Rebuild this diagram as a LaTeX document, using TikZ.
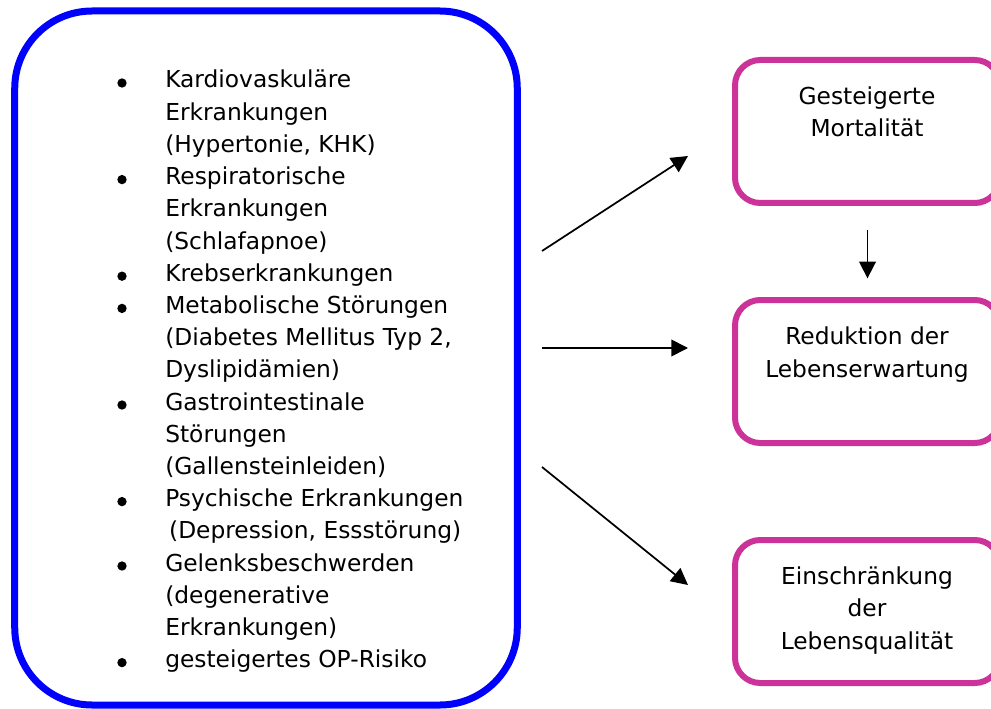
\documentclass[tikz,border=0pt]{standalone}
\usepackage{fontspec}
\setmainfont{DejaVu Sans}
\usetikzlibrary{arrows.meta}
\definecolor{riskblue}{RGB}{0,0,255}
\definecolor{effpink}{RGB}{204,51,153}

\begin{document}
\begin{tikzpicture}[x=0.75pt, y=-0.75pt, every node/.style={font=\fontsize{17.5}{24.2}\selectfont, inner sep=0pt}, >={Triangle[length=12.5pt, width=12.5pt]},
	riskbox/.style={draw=riskblue, line width=5.25pt, rounded corners=58pt, minimum width=376.9pt, minimum height=520.5pt},
	effbox/.style={draw=effpink, line width=4.5pt, rounded corners=19pt, minimum width=198.75pt, minimum height=107.25pt},
	efftext/.style={align=center, anchor=base},
	riskline/.style={anchor=base west},
	riskdot/.style={circle, fill=black, minimum size=7pt},
	arr/.style={->, line width=1.3pt}]
	\useasboundingbox (0,0) rectangle (991,709);
	\clip (0,0) rectangle (991,709);
	\node[riskbox] (risks) at (266,358) {};
	\foreach \txt [count=\i] in {Kardiovaskuläre, Erkrankungen, {(Hypertonie, KHK)}, Respiratorische, Erkrankungen, {(Schlafapnoe)}, Krebserkrankungen, Metabolische Störungen, {(Diabetes Mellitus Typ 2,}, {Dyslipidämien)}, Gastrointestinale, Störungen, {(Gallensteinleiden)}, Psychische Erkrankungen, {\,(Depression, Essstörung)}, Gelenksbeschwerden, {(degenerative}, {Erkrankungen)}, gesteigertes OP-Risiko}
		\node[riskline] (l\i) at (165,{88+(\i-1)*32.2}) {\txt};
	\foreach \i in {1,4,7,8,11,14,16,19}
		\node[riskdot] (b\i) at (122,{83+(\i-1)*32.2}) {};
	\node[effbox] (mort) at (867.5,131.5) {};
	\node[efftext] (mortlbl) at (867,137) {Gesteigerte\\Mortalität};
	\node[effbox] (life) at (867.5,371.5) {};
	\node[efftext] (lifelbl) at (867,377) {Reduktion der\\Lebenserwartung};
	\node[effbox] (qual) at (867.5,611.5) {};
	\node[efftext] (quallbl) at (867,649) {Einschränkung\\der\\Lebensqualität};
	\coordinate (up0) at (542,251); \coordinate (up1) at (688,156);
	\coordinate (mid0) at (542,348); \coordinate (mid1) at (688,348);
	\coordinate (low0) at (542,467); \coordinate (low1) at (688,585);
	\draw[arr] (up0) -- (up1);
	\draw[arr] (mid0) -- (mid1);
	\draw[arr] (low0) -- (low1);
	\draw[arr, shorten <=18pt, shorten >=14pt] (mort.south) -- (life.north);
\end{tikzpicture}
\end{document}
